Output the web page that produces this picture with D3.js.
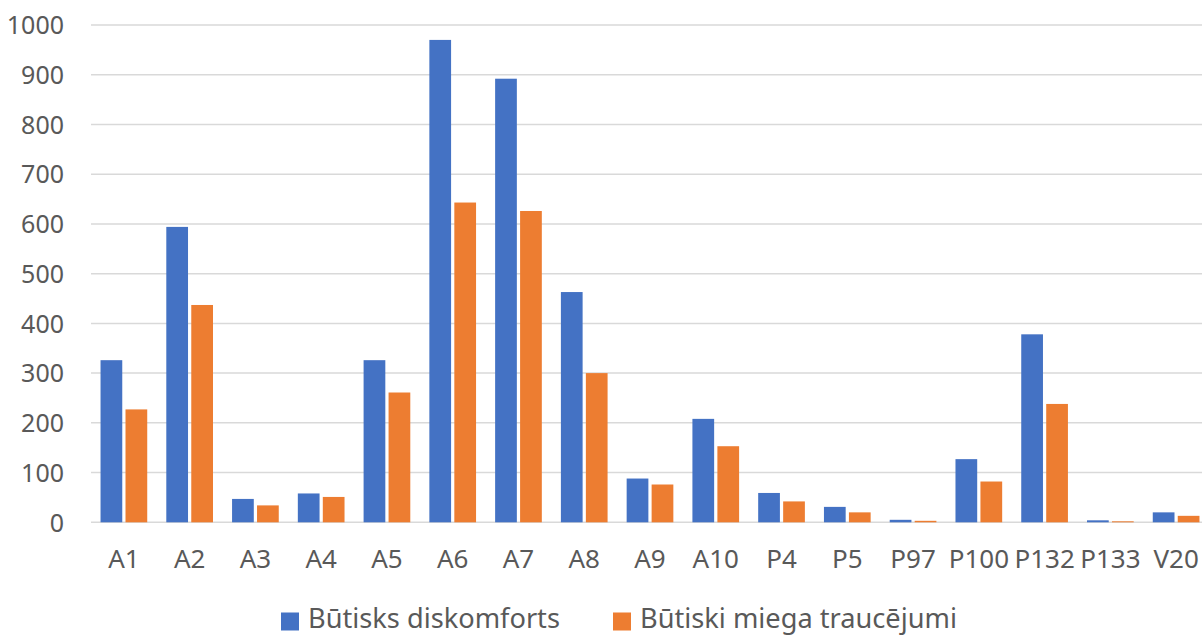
<!DOCTYPE html>
<html>
<head>
<meta charset="utf-8">
<script src="https://cdn.jsdelivr.net/npm/d3@7"></script>
<style>
  html, body { margin: 0; padding: 0; background: #fff; overflow: hidden; }
  svg { display: block; font-family: "Noto Sans", "Open Sans", sans-serif; }
</style>
</head>
<body>
<svg id="chart" width="1202" height="635"></svg>
<script>
// Category labels along the x axis
const categories = ["A1", "A2", "A3", "A4", "A5", "A6", "A7", "A8", "A9", "A10",
                    "P4", "P5", "P97", "P100", "P132", "P133", "V20"];

// Series names
const seriesNames = ["Būtisks diskomforts", "Būtiski miega traucējumi"];

// Series values, one per category
const discomfort = [326, 594, 47, 58, 326, 970, 892, 463, 88, 208, 59, 31, 5, 127, 378, 4, 20];
const sleepDisturbance = [227, 437, 34, 51, 261, 643, 626, 300, 76, 153, 42, 20, 3, 82, 238, 2, 13];

// Y axis ticks
const yTicks = [0, 100, 200, 300, 400, 500, 600, 700, 800, 900, 1000];

const colors = ["#4472C4", "#ED7D31"];
const textColor = "#595959";
const gridColor = "#d9d9d9";
const fontFamily = "'Noto Sans', 'Open Sans', sans-serif";

const svg = d3.select("#chart");

const plot = { left: 91, right: 1209, top: 25, bottom: 522.3 };

const x0 = d3.scaleBand()
  .domain(categories)
  .range([plot.left, plot.right])
  .paddingInner(0.29)
  .paddingOuter(0.145);

const x1 = d3.scaleBand()
  .domain(seriesNames)
  .range([0, x0.bandwidth()])
  .paddingInner(0.13);

const y = d3.scaleLinear()
  .domain([0, 1000])
  .range([plot.bottom, plot.top]);

// Horizontal gridlines
svg.append("g")
  .selectAll("line")
  .data(yTicks)
  .join("line")
  .attr("x1", plot.left)
  .attr("x2", plot.right)
  .attr("y1", d => y(d))
  .attr("y2", d => y(d))
  .attr("stroke", gridColor)
  .attr("stroke-width", 1.5);

// Y axis labels
const yAxis = d3.axisLeft(y).tickValues(yTicks).tickFormat(d3.format("d")).tickSize(0).tickPadding(0);
const gy = svg.append("g")
  .attr("transform", "translate(64,0)")
  .call(yAxis);
gy.select(".domain").remove();
gy.selectAll("text")
  .attr("fill", textColor)
  .attr("font-size", 25)
  .attr("font-family", fontFamily)
  .attr("dy", "0.35em");

// X axis labels
const xAxis = d3.axisBottom(x0).tickSize(0).tickPadding(0);
const gx = svg.append("g")
  .attr("transform", `translate(0,${plot.bottom})`)
  .call(xAxis);
gx.select(".domain").remove();
gx.selectAll("text")
  .attr("fill", textColor)
  .attr("font-size", 26)
  .attr("font-family", fontFamily)
  .attr("dy", 0)
  .attr("y", 46);

// Bars
const rows = categories.map((c, i) => ({
  category: c,
  values: [
    { key: seriesNames[0], value: discomfort[i] },
    { key: seriesNames[1], value: sleepDisturbance[i] }
  ]
}));

svg.append("g")
  .selectAll("g")
  .data(rows)
  .join("g")
  .attr("transform", d => `translate(${x0(d.category)},0)`)
  .selectAll("rect")
  .data(d => d.values)
  .join("rect")
  .attr("x", d => x1(d.key))
  .attr("y", d => y(d.value))
  .attr("width", x1.bandwidth())
  .attr("height", d => y(0) - y(d.value))
  .attr("fill", (d, i) => colors[i]);

// Legend
const legendItems = [
  { name: seriesNames[0], color: colors[0], x: 281 },
  { name: seriesNames[1], color: colors[1], x: 613 }
];
const legend = svg.append("g");
legendItems.forEach(item => {
  legend.append("rect")
    .attr("x", item.x)
    .attr("y", 612.5)
    .attr("width", 18)
    .attr("height", 18)
    .attr("fill", item.color);
  legend.append("text")
    .attr("x", item.x + 27)
    .attr("y", 628)
    .attr("fill", textColor)
    .attr("font-size", 27.2)
    .attr("font-family", fontFamily)
    .text(item.name);
});
</script>
</body>
</html>
